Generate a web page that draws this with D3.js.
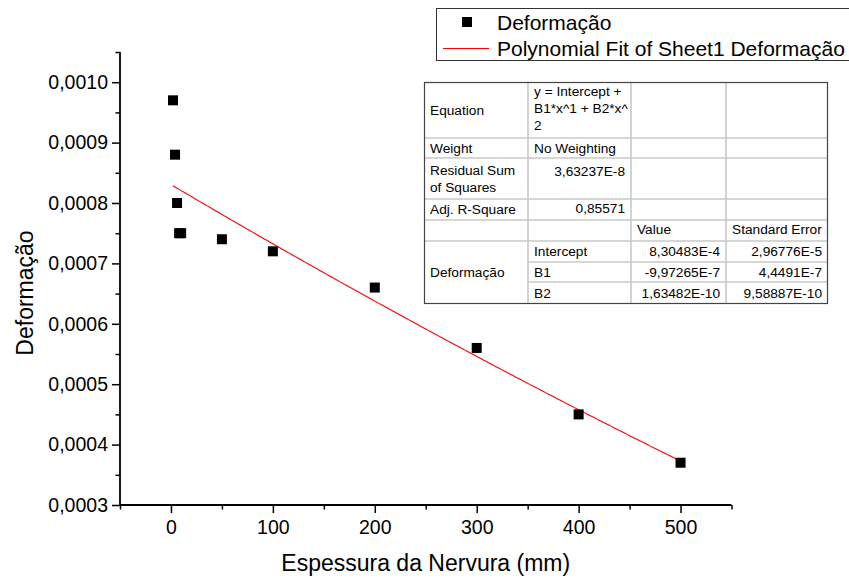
<!DOCTYPE html>
<html><head><meta charset="utf-8">
<script src="https://cdn.jsdelivr.net/npm/d3@7"></script>
<style>body{margin:0;background:#fff}svg{display:block;font-family:Arial,"Liberation Sans",sans-serif}</style>
</head><body><svg id="c" width="849" height="581"></svg>
<script>
const thickness = [2, 4, 6, 8, 10, 50, 100, 200, 300, 400, 500];
const deformation = [0.00097, 0.00088, 0.00080, 0.00075, 0.00075, 0.00074, 0.00072, 0.00066, 0.00056, 0.00045, 0.00037];
const fitCoef = {intercept: 8.30483e-4, b1: -9.97265e-7, b2: 1.63482e-10};
const xTicks = [0, 100, 200, 300, 400, 500];
const xMinorTicks = [-50, 50, 150, 250, 350, 450, 550];
const yTicks = [0.0003, 0.0004, 0.0005, 0.0006, 0.0007, 0.0008, 0.0009, 0.0010];
const yMinorTicks = [0.00035, 0.00045, 0.00055, 0.00065, 0.00075, 0.00085, 0.00095, 0.00105];
const legendLabels = ["Deformação", "Polynomial Fit of Sheet1 Deformação"];
const tableRows = [
  ["Equation", "y = Intercept +\nB1*x^1 + B2*x^\n2", "", ""],
  ["Weight", "No Weighting", "", ""],
  ["Residual Sum\nof Squares", "3,63237E-8", "", ""],
  ["Adj. R-Square", "0,85571", "", ""],
  ["", "", "Value", "Standard Error"],
  ["Deformação", "Intercept", "8,30483E-4", "2,96776E-5"],
  ["", "B1", "-9,97265E-7", "4,4491E-7"],
  ["", "B2", "1,63482E-10", "9,58887E-10"]
];

const FONT = "Arial, 'Liberation Sans', sans-serif";
const svg = d3.select("#c");
const AX_Y = 505, AX_X = 120;
const x = d3.scaleLinear().domain([-50, 550]).range([AX_X, 731.5]);
const y = d3.scaleLinear().domain([0.0003, 0.00105]).range([AX_Y, 52]);
const fmt = d => d3.format(".4f")(d).replace(".", ",");

// minor ticks
svg.append("g").attr("transform", `translate(0,${AX_Y})`)
  .call(d3.axisBottom(x).tickValues(xMinorTicks).tickSize(4.5).tickFormat(""));
svg.append("g").attr("transform", `translate(${AX_X},0)`)
  .call(d3.axisLeft(y).tickValues(yMinorTicks).tickSize(4.5).tickFormat(""));
// major ticks
const gx = svg.append("g").attr("transform", `translate(0,${AX_Y})`)
  .call(d3.axisBottom(x).tickValues(xTicks).tickSize(8).tickPadding(7).tickFormat(d3.format("d")));
const gy = svg.append("g").attr("transform", `translate(${AX_X},0)`)
  .call(d3.axisLeft(y).tickValues(yTicks).tickSize(8).tickPadding(5).tickFormat(fmt));
svg.selectAll(".domain").remove();
gx.append("path").attr("d", `M${x(-50)},0H${x(550)}`).attr("stroke", "#000").attr("stroke-width", 1.8);
gy.append("path").attr("d", `M0,${y(0.00105)}V${y(0.0003)}`).attr("stroke", "#000").attr("stroke-width", 1.8);
svg.selectAll(".tick line").attr("stroke", "#000").attr("stroke-width", 1.5);
svg.selectAll(".tick text").attr("font-size", 19.5).attr("fill", "#000").attr("font-family", FONT);
gy.selectAll(".tick text").attr("x", -12);

// axis titles
svg.append("text").attr("x", x(250)).attr("y", 563).attr("dy", "0.35em").attr("text-anchor", "middle")
  .attr("font-size", 23).text("Espessura da Nervura (mm)");
svg.append("text").attr("transform", "translate(25,293) rotate(-90)").attr("dy", "0.35em").attr("text-anchor", "middle")
  .attr("font-size", 23).text("Deformação");

// fit line
const fitX = d3.range(2, 500.01, 2);
const fitLine = d3.line().x(d => x(d)).y(d => y(fitCoef.intercept + fitCoef.b1 * d + fitCoef.b2 * d * d));
svg.append("path").datum(fitX).attr("d", fitLine).attr("fill", "none").attr("stroke", "#ff0000").attr("stroke-width", 1.1);

// points
svg.append("g").selectAll("rect").data(thickness).join("rect")
  .attr("x", (d) => x(d) - 5).attr("y", (d, i) => y(deformation[i]) - 5)
  .attr("width", 10).attr("height", 10).attr("fill", "#000");

// legend
const lg = svg.append("g");
lg.append("rect").attr("x", 436.5).attr("y", 8.5).attr("width", 420).attr("height", 52).attr("fill", "#fff").attr("stroke", "#333").attr("stroke-width", 1);
lg.append("rect").attr("x", 462).attr("y", 17).attr("width", 10).attr("height", 10).attr("fill", "#000");
lg.append("line").attr("x1", 443).attr("x2", 489).attr("y1", 48.5).attr("y2", 48.5).attr("stroke", "#ff0000").attr("stroke-width", 1.1);
lg.append("text").attr("x", 497).attr("y", 22.5).attr("dy", "0.35em").attr("font-size", 21).text(legendLabels[0]);
lg.append("text").attr("x", 497).attr("y", 48.5).attr("dy", "0.35em").attr("font-size", 21).text(legendLabels[1]);

// table
const tg = svg.append("g");
const colX = [424, 528, 631, 726, 828];
const rowY = [82, 138, 158, 199, 220, 241, 262, 282, 304];
const textOff = [9.7, 10, 13.5, 9, 9, 10, 10.5, 11];
tg.append("rect").attr("x", colX[0]).attr("y", rowY[0]).attr("width", colX[4]-colX[0]).attr("height", rowY[8]-rowY[0])
  .attr("fill", "#fff");
rowY.slice(1, 8).forEach((ry, i) => {
  const r = i + 1;
  const x0 = (r === 6 || r === 7) ? colX[1] : colX[0];
  tg.append("line").attr("x1", x0).attr("x2", colX[4]).attr("y1", ry).attr("y2", ry).attr("stroke", "#c8c8c8").attr("stroke-width", 1.6);
});
colX.slice(1, 4).forEach(cx => {
  tg.append("line").attr("x1", cx).attr("x2", cx).attr("y1", rowY[0]).attr("y2", rowY[8]).attr("stroke", "#c8c8c8").attr("stroke-width", 1.6);
});
tg.append("rect").attr("x", colX[0]+0.5).attr("y", rowY[0]+0.5).attr("width", colX[4]-colX[0]-1).attr("height", rowY[8]-rowY[0]-1)
  .attr("fill", "none").attr("stroke", "#444").attr("stroke-width", 1.2);
const rightAlign = (r, c) => (c >= 2 && r >= 5) || (c === 1 && (r === 2 || r === 3));
tableRows.forEach((row, r) => {
  row.forEach((cell, c) => {
    if (!cell) return;
    const lines = cell.split("\n");
    let ty;
    if (c === 0 && r === 5) ty = (rowY[5] + rowY[8]) / 2;
    else if (c === 0) ty = (rowY[r] + rowY[r+1]) / 2 - (lines.length - 1) * 8;
    else ty = rowY[r] + textOff[r];
    const ra = rightAlign(r, c);
    const tx = ra ? colX[c+1] - 6 : colX[c] + 6;
    const t = tg.append("text").attr("font-size", 13.7).attr("fill", "#000")
      .attr("x", tx).attr("text-anchor", ra ? "end" : "start");
    lines.forEach((ln, k) => {
      t.append("tspan").attr("x", tx).attr("y", ty + k * 16.7).attr("dy", "0.35em").text(ln);
    });
  });
});
</script></body></html>
